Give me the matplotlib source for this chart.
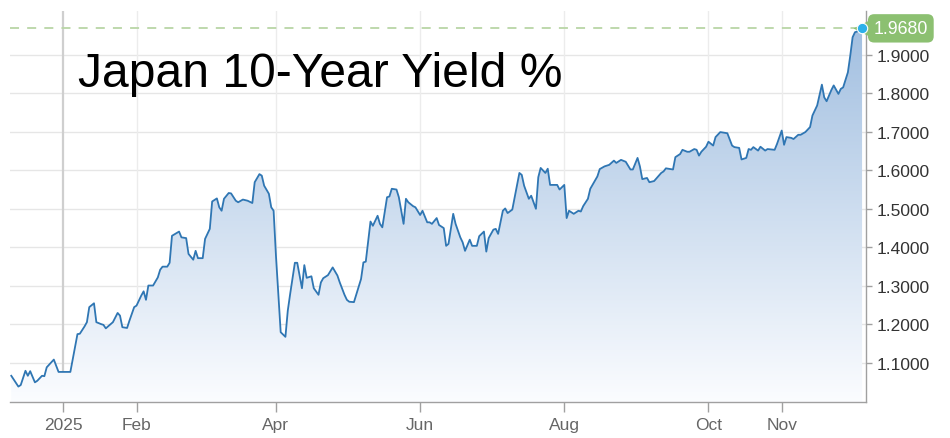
import matplotlib
matplotlib.use("Agg")
import matplotlib.pyplot as plt
import matplotlib.dates as mdates
import matplotlib.transforms as mtransforms
from matplotlib.patches import PathPatch
import numpy as np
import pandas as pd

plt.rcParams['font.family'] = ['Liberation Sans', 'DejaVu Sans']

# ---------------- data ----------------
dates = [
    "2024-12-10", "2024-12-12", "2024-12-13", "2024-12-14", "2024-12-16", "2024-12-17",
    "2024-12-18", "2024-12-20", "2024-12-21", "2024-12-23", "2024-12-24", "2024-12-25",
    "2024-12-28", "2024-12-30", "2025-01-04", "2025-01-07", "2025-01-08", "2025-01-10",
    "2025-01-11", "2025-01-12", "2025-01-14", "2025-01-15", "2025-01-17", "2025-01-18",
    "2025-01-19", "2025-01-22", "2025-01-24", "2025-01-25", "2025-01-26", "2025-01-28",
    "2025-01-29", "2025-01-31", "2025-02-01", "2025-02-03", "2025-02-04", "2025-02-05",
    "2025-02-06", "2025-02-08", "2025-02-10", "2025-02-11", "2025-02-12", "2025-02-14",
    "2025-02-15", "2025-02-16", "2025-02-19", "2025-02-20", "2025-02-22", "2025-02-23",
    "2025-02-25", "2025-02-26", "2025-02-27", "2025-03-01", "2025-03-02", "2025-03-04",
    "2025-03-05", "2025-03-07", "2025-03-08", "2025-03-09", "2025-03-10", "2025-03-12",
    "2025-03-13", "2025-03-15", "2025-03-16", "2025-03-18", "2025-03-20", "2025-03-22",
    "2025-03-23", "2025-03-25", "2025-03-26", "2025-03-27", "2025-03-29", "2025-03-30",
    "2025-03-31", "2025-04-01", "2025-04-03", "2025-04-05", "2025-04-06", "2025-04-07",
    "2025-04-09", "2025-04-10", "2025-04-12", "2025-04-13", "2025-04-14", "2025-04-16",
    "2025-04-17", "2025-04-19", "2025-04-20", "2025-04-21", "2025-04-23", "2025-04-25",
    "2025-04-27", "2025-04-28", "2025-04-30", "2025-05-01", "2025-05-02", "2025-05-04",
    "2025-05-07", "2025-05-08", "2025-05-09", "2025-05-11", "2025-05-12", "2025-05-14",
    "2025-05-15", "2025-05-16", "2025-05-18", "2025-05-19", "2025-05-20", "2025-05-22",
    "2025-05-23", "2025-05-25", "2025-05-26", "2025-05-27", "2025-05-29", "2025-05-30",
    "2025-06-01", "2025-06-02", "2025-06-04", "2025-06-05", "2025-06-06", "2025-06-08",
    "2025-06-09", "2025-06-11", "2025-06-12", "2025-06-13", "2025-06-15", "2025-06-16",
    "2025-06-18", "2025-06-19", "2025-06-20", "2025-06-22", "2025-06-23", "2025-06-25",
    "2025-06-26", "2025-06-28", "2025-06-29", "2025-06-30", "2025-07-02", "2025-07-03",
    "2025-07-04", "2025-07-06", "2025-07-07", "2025-07-08", "2025-07-10", "2025-07-11",
    "2025-07-13", "2025-07-14", "2025-07-15", "2025-07-17", "2025-07-18", "2025-07-20",
    "2025-07-21", "2025-07-22", "2025-07-24", "2025-07-25", "2025-07-26", "2025-07-29",
    "2025-07-30", "2025-08-01", "2025-08-02", "2025-08-03", "2025-08-05", "2025-08-07",
    "2025-08-08", "2025-08-09", "2025-08-11", "2025-08-12", "2025-08-14", "2025-08-15",
    "2025-08-16", "2025-08-18", "2025-08-20", "2025-08-22", "2025-08-23", "2025-08-25",
    "2025-08-27", "2025-08-29", "2025-08-30", "2025-09-01", "2025-09-02", "2025-09-03",
    "2025-09-05", "2025-09-06", "2025-09-08", "2025-09-11", "2025-09-12", "2025-09-13",
    "2025-09-16", "2025-09-17", "2025-09-19", "2025-09-20", "2025-09-22", "2025-09-23",
    "2025-09-25", "2025-09-26", "2025-09-27", "2025-09-28", "2025-09-30", "2025-10-01",
    "2025-10-03", "2025-10-04", "2025-10-06", "2025-10-08", "2025-10-09", "2025-10-11",
    "2025-10-12", "2025-10-14", "2025-10-15", "2025-10-17", "2025-10-18", "2025-10-19",
    "2025-10-20", "2025-10-22", "2025-10-23", "2025-10-25", "2025-10-26", "2025-10-29",
    "2025-10-30", "2025-11-01", "2025-11-02", "2025-11-03", "2025-11-05", "2025-11-06",
    "2025-11-08", "2025-11-09", "2025-11-11", "2025-11-13", "2025-11-14", "2025-11-16",
    "2025-11-18", "2025-11-19", "2025-11-20", "2025-11-22", "2025-11-23", "2025-11-25",
    "2025-11-26", "2025-11-27", "2025-11-29", "2025-11-30", "2025-12-01", "2025-12-02",
    "2025-12-04", "2025-12-05",
]
yields = [
    1.067, 1.048, 1.039, 1.043, 1.080, 1.067,
    1.079, 1.050, 1.054, 1.067, 1.066, 1.089,
    1.109, 1.077, 1.077, 1.175, 1.176, 1.195,
    1.206, 1.245, 1.255, 1.206, 1.201, 1.199,
    1.190, 1.206, 1.230, 1.223, 1.193, 1.191,
    1.210, 1.245, 1.249, 1.275, 1.286, 1.264,
    1.301, 1.301, 1.322, 1.342, 1.350, 1.350,
    1.360, 1.430, 1.441, 1.426, 1.424, 1.383,
    1.368, 1.391, 1.372, 1.372, 1.422, 1.448,
    1.519, 1.527, 1.504, 1.495, 1.526, 1.541,
    1.540, 1.521, 1.517, 1.524, 1.521, 1.515,
    1.569, 1.590, 1.586, 1.560, 1.539, 1.504,
    1.495, 1.378, 1.180, 1.168, 1.236, 1.279,
    1.360, 1.360, 1.294, 1.354, 1.321, 1.325,
    1.294, 1.277, 1.309, 1.320, 1.328, 1.348,
    1.327, 1.309, 1.277, 1.264, 1.259, 1.258,
    1.318, 1.361, 1.363, 1.467, 1.456, 1.482,
    1.461, 1.452, 1.530, 1.532, 1.552, 1.550,
    1.530, 1.461, 1.526, 1.517, 1.507, 1.504,
    1.484, 1.495, 1.465, 1.465, 1.461, 1.476,
    1.458, 1.450, 1.404, 1.409, 1.487, 1.461,
    1.426, 1.413, 1.391, 1.420, 1.404, 1.404,
    1.429, 1.441, 1.389, 1.424, 1.446, 1.448,
    1.435, 1.495, 1.501, 1.489, 1.498, 1.530,
    1.593, 1.588, 1.560, 1.526, 1.534, 1.500,
    1.582, 1.606, 1.593, 1.604, 1.562, 1.562,
    1.550, 1.562, 1.476, 1.495, 1.487, 1.495,
    1.493, 1.507, 1.526, 1.552, 1.573, 1.584,
    1.603, 1.610, 1.614, 1.625, 1.619, 1.627,
    1.622, 1.602, 1.602, 1.632, 1.610, 1.577,
    1.580, 1.569, 1.572, 1.593, 1.597, 1.605,
    1.602, 1.634, 1.642, 1.653, 1.648, 1.648,
    1.655, 1.653, 1.638, 1.648, 1.661, 1.674,
    1.664, 1.686, 1.699, 1.697, 1.696, 1.664,
    1.660, 1.658, 1.628, 1.632, 1.655, 1.653,
    1.660, 1.651, 1.661, 1.651, 1.655, 1.653,
    1.668, 1.703, 1.666, 1.686, 1.684, 1.681,
    1.692, 1.692, 1.699, 1.712, 1.742, 1.768,
    1.822, 1.789, 1.779, 1.808, 1.820, 1.798,
    1.811, 1.815, 1.854, 1.897, 1.945, 1.958,
    1.962, 1.968,
]
title = "Japan 10-Year Yield %"
x_tick_dates = ["2025-01-01", "2025-02-01", "2025-04-01", "2025-06-01",
                "2025-08-01", "2025-10-01", "2025-11-01"]
x_tick_labels = ["2025", "Feb", "Apr", "Jun", "Aug", "Oct", "Nov"]
y_ticks = [1.1, 1.2, 1.3, 1.4, 1.5, 1.6, 1.7, 1.8, 1.9]

# ---------------- figure ----------------
W, H = 950, 439
fig = plt.figure(figsize=(W / 100, H / 100), dpi=100)
fig.patch.set_facecolor("white")
ax = fig.add_axes([10 / W, 1 - 403 / H, 856 / W, (403 - 12) / H])

x = pd.to_datetime(dates)
y = np.array(yields)
xt = pd.to_datetime(x_tick_dates)

xmin = pd.Timestamp("2024-12-09 11:00")
xmax = pd.Timestamp("2025-12-06 16:00")
ymin, ymax = 0.999, 2.013
ax.set_xlim(xmin, xmax)
ax.set_ylim(ymin, ymax)

# grid
for v in y_ticks:
    ax.axhline(v, color="#e6e6e6", lw=1, zorder=0)
for i, d in enumerate(xt):
    if i == 0:
        ax.axvline(d, color="#cfcfcf", lw=1.6, zorder=0)
    else:
        ax.axvline(d, color="#ececec", lw=1, zorder=0)

# gradient fill under the line
xn = mdates.date2num(x)
poly_x = np.concatenate([[xn[0]], xn, [xn[-1]]])
poly_y = np.concatenate([[ymin], y, [ymin]])
path = matplotlib.path.Path(np.column_stack([poly_x, poly_y]))
patch = PathPatch(path, transform=ax.transData, facecolor="none", edgecolor="none")
ax.add_patch(patch)
top = np.array([0.62, 0.74, 0.875])
bot = np.array([0.985, 0.99, 1.0])
t = np.linspace(0, 1, 256)[:, None]
grad = (bot[None, :] * (1 - t) + top[None, :] * t)[:, None, :]
grad = np.repeat(grad, 2, axis=1)
im = ax.imshow(grad, extent=[mdates.date2num(xmin), mdates.date2num(xmax), ymin, ymax],
               origin="lower", aspect="auto", zorder=1, interpolation="bilinear")
im.set_clip_path(patch)

# line
ax.plot(x, y, color="#2f76b3", lw=1.3, zorder=3)

# last-value dashed line
last = y[-1]
ax.axhline(last, color="#b9d6a6", lw=1.3, ls=(0, (5, 4.5)), zorder=2)

# spines
for s in ["left", "top"]:
    ax.spines[s].set_visible(False)
for s in ["right", "bottom"]:
    ax.spines[s].set_color("#a0a0a0")
    ax.spines[s].set_linewidth(1.0)

ax.yaxis.tick_right()
ax.set_yticks(y_ticks)
ax.set_yticklabels([f"{v:.4f}" for v in y_ticks])
ax.set_xticks(xt)
ax.set_xticklabels(x_tick_labels)
ax.tick_params(axis="x", length=7, width=1, color="#a0a0a0", labelcolor="#666666",
               labelsize=12.5, pad=4)
ax.tick_params(axis="y", length=4, width=1, color="#a0a0a0", labelcolor="#333333",
               labelsize=12.5, pad=4)

# title
ax.text(0.079, 0.808, title, transform=ax.transAxes, fontsize=34.6, color="black",
        ha="left", va="baseline", zorder=5)

# last-value label
trans = mtransforms.blended_transform_factory(ax.transAxes, ax.transData)
green = "#8cc071"
ax.annotate(f"{last:.4f}", xy=(1, last), xycoords=trans, xytext=(5.5, 0),
            textcoords="offset points", ha="left", va="center", color="white",
            fontsize=12.8, zorder=6, annotation_clip=False,
            bbox=dict(boxstyle="round,pad=0.32,rounding_size=0.35", fc=green, ec="none"))
off = mtransforms.ScaledTranslation(-2.5 / 72, 0, fig.dpi_scale_trans)
ax.plot([1], [last], marker="<", ms=15, color=green, mec="none",
        transform=trans + off, clip_on=False, zorder=6)
ax.plot([x[-1]], [last], marker="o", ms=7.5, color="#2cb0ea", mec="white", mew=0.8,
        clip_on=False, zorder=7)

fig.savefig("out.png", dpi=100, facecolor="white")
